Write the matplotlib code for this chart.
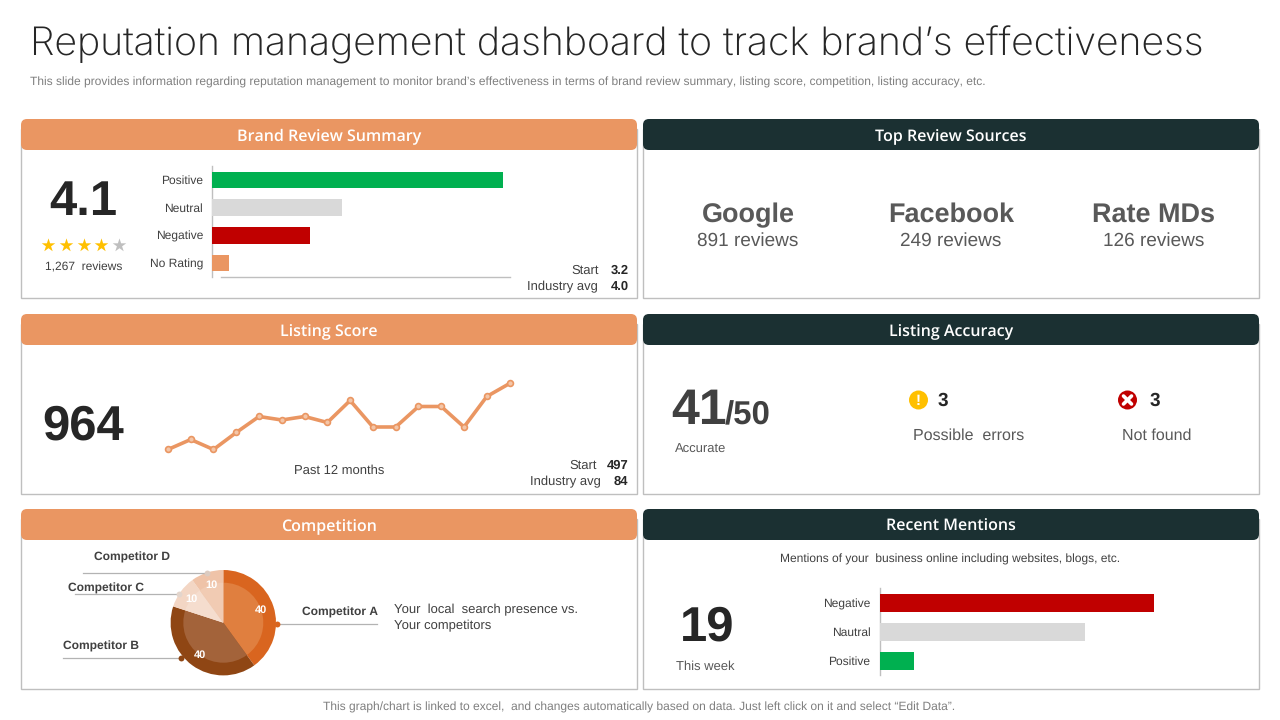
import numpy as np
import matplotlib
matplotlib.use("Agg")
import matplotlib.pyplot as plt
from matplotlib.patches import Circle, FancyBboxPatch, Rectangle, Wedge

plt.rcParams["font.family"] = ["Liberation Sans", "DejaVu Sans"]
plt.rcParams["text.hinting"] = "no_hinting"
plt.rcParams["text.hinting_factor"] = 1

ORANGE = "#EA9662"
DARK = "#1B3032"
GREEN = "#00B050"
GREY = "#D9D9D9"
RED = "#C00000"

review_cats = ["Positive", "Neutral", "Negative", "No Rating"]
review_vals = [291, 130, 98, 17]
review_colors = [GREEN, GREY, RED, ORANGE]

sources = ["Google", "Facebook", "Rate MDs"]
source_reviews = ["891 reviews", "249 reviews", "126 reviews"]

score_vals = [0, 10, 0, 17, 33, 29.5, 33, 27, 49, 22.5, 22.5, 43, 43, 22.5, 53, 66]

comp_names = ["Competitor A", "Competitor B", "Competitor C", "Competitor D"]
comp_vals = [40, 40, 10, 10]
comp_outer = ["#D9651F", "#8F4614", "#F3D6C4", "#EFC3A8"]
comp_inner = ["#E07F3F", "#A3633A", "#F5DDCE", "#F1CBB3"]

mention_cats = ["Negative", "Nautral", "Positive"]
mention_vals = [274, 205, 34]
mention_colors = [RED, GREY, GREEN]

fig = plt.figure(figsize=(12.8, 7.2), dpi=100)
bg = fig.add_axes([0, 0, 1, 1])
bg.set_xlim(0, 1280)
bg.set_ylim(720, 0)
bg.axis("off")


def px_axes(x0, y0, x1, y1):
    # axes placed with pixel corners, y measured from the top
    ax = fig.add_axes([x0 / 1280, 1 - y1 / 720, (x1 - x0) / 1280, (y1 - y0) / 720])
    ax.axis("off")
    ax.patch.set_alpha(0)
    return ax


def label(x, y, s, size, color="#404040", ha="center", weight="normal", **kw):
    # va=center sits high for these fonts, push down a bit with the size
    bg.text(x, y + 0.8 + 0.11 * size, s, fontsize=size, color=color, ha=ha, va="center",
            fontweight=weight, **kw)


def panel(x0, y0, x1, y1, title, color):
    bg.add_patch(Rectangle((x0, y0 + 10), x1 - x0, y1 - y0 - 10, fc="white", ec="#BFBFBF", lw=1))
    bg.add_patch(FancyBboxPatch((x0 + 5, y0 + 5), x1 - x0 - 10, 21,
                                boxstyle="round,pad=5,rounding_size=6", fc=color, ec="none"))
    bg.text((x0 + x1) / 2, y0 + 18, title, fontsize=11.5, color="white", ha="center", va="center",
            family="Open Sans", fontweight="semibold")


def hbars(ax_box, cats, vals, colors, height, size, xmax, pad):
    ax = px_axes(*ax_box)
    ypos = list(range(len(cats)))
    ax.barh(ypos, vals, height=height, color=colors)
    ax.set_xlim(0, xmax)
    ax.set_ylim(len(cats) - 0.5, -0.5)
    for y, c in zip(ypos, cats):
        ax.annotate(c, (0, y), xytext=(-pad, -0.7), textcoords="offset points", ha="right", va="center",
                    fontsize=size, color="#404040", annotation_clip=False)
    return ax


bg.text(30, 45, "Reputation management dashboard to track brand\u2019s effectiveness", fontsize=28.2,
        color="#262626", va="center", family="Inter", fontweight="light")
label(30, 80.5, "This slide provides information regarding reputation management to monitor brand\u2019s "
      "effectiveness in terms of brand review summary, listing score, competition, listing accuracy, etc.",
      8.7, "#7F7F7F", ha="left")
label(639.5, 706, "This graph/chart is linked to excel,  and changes automatically based on data. "
      "Just left click on it and select \u201cEdit Data\u201d.", 8.6, "#7F7F7F")

panel(21, 119, 637, 298, "Brand Review Summary", ORANGE)
panel(643, 119, 1259, 298, "Top Review Sources", DARK)
panel(21, 314, 637, 494, "Listing Score", ORANGE)
panel(643, 314, 1259, 494, "Listing Accuracy", DARK)
panel(21, 509, 637, 689, "Competition", ORANGE)
panel(643, 509, 1259, 689, "Recent Mentions", DARK)

# brand review summary
label(83, 198, "4.1", 35, "#262626", weight="bold")
for i, sx in enumerate([48, 66, 84, 101, 119]):
    bg.scatter(sx, 245, marker="*", s=105, color="#FFC000" if i < 4 else "#BFBFBF", lw=0)
label(83.5, 266, "1,267  reviews", 8.7, "#404040")
hbars((212, 166, 512, 277), review_cats, review_vals, review_colors, 0.6, 8.6, 300, 6.5)
bg.plot([212, 212], [166, 277], color="#BFBFBF", lw=1)
bg.plot([221, 510], [276.5, 276.5], color="#BFBFBF", lw=1)
label(599, 269, "Start", 9.2, ha="right")
label(628.5, 269, "3.2", 9.2, "#262626", ha="right", weight="bold")
label(597.5, 285, "Industry avg", 9.2, ha="right")
label(628.5, 285, "4.0", 9.2, "#262626", ha="right", weight="bold")

# top review sources
for cx, name, rev in zip([748, 951, 1153.5], sources, source_reviews):
    label(cx, 212, name, 19.6, "#595959", weight="bold")
    label(cx, 239, rev, 13.5, "#595959")

# listing score
label(83.5, 422, "964", 35.5, "#262626", weight="bold")
ax = px_axes(157, 373.5, 520.5, 459.5)
ax.plot(range(len(score_vals)), score_vals, color=ORANGE, lw=2.6, marker="o", ms=4.2,
        mfc="#F4C6A8", mec=ORANGE, mew=1.2)
ax.set_xlim(-0.48, len(score_vals) - 1 + 0.48)
ax.set_ylim(-10, 76)
label(339, 469, "Past 12 months", 9.3)
label(597, 464, "Start", 9.2, ha="right")
label(628.5, 464, "497", 9.2, "#262626", ha="right", weight="bold")
label(601, 480, "Industry avg", 9.2, ha="right")
label(628.5, 480, "84", 9.2, "#262626", ha="right", weight="bold")

# listing accuracy
label(671, 406, "41", 36, "#404040", ha="left", weight="bold")
label(725, 412, "/50", 23.5, "#404040", ha="left", weight="bold")
label(675, 448, "Accurate", 9.3, "#595959", ha="left")
bg.add_patch(Circle((918.5, 400), 9.5, fc="#FFC000", ec="none"))
label(918.5, 399, "!", 11, "white", weight="bold")
label(943, 399, "3", 13.5, "#262626", weight="bold")
label(969, 433.5, "Possible  errors", 11.4, "#595959")
bg.add_patch(Circle((1127.5, 400), 9.5, fc=RED, ec="none"))
bg.plot([1123.5, 1131.5], [396, 404], color="white", lw=2.6, solid_capstyle="round")
bg.plot([1123.5, 1131.5], [404, 396], color="white", lw=2.6, solid_capstyle="round")
label(1155, 399, "3", 13.5, "#262626", weight="bold")
label(1156.5, 433.5, "Not found", 11.2, "#595959")

# competition pie
ax = px_axes(163.3, 562.7, 283.3, 682.7)
ax.set_xlim(-60, 60)
ax.set_ylim(-60, 60)
ax.set_aspect("equal")
start = 90
for val, outer, inner in zip(comp_vals, comp_outer, comp_inner):
    sweep = val / sum(comp_vals) * 360
    ax.add_patch(Wedge((0, 0), 52.7, start - sweep, start, fc=outer, ec="none"))
    ax.add_patch(Wedge((0, 0), 40, start - sweep, start, fc=inner, ec="none"))
    mid = np.radians(start - sweep / 2)
    ax.text(40 * np.cos(mid), 40 * np.sin(mid), str(val), fontsize=8, color="white",
            fontweight="bold", ha="center", va="center")
    start -= sweep

# overlay so the leader dots sit on top of the pie
top = px_axes(0, 0, 1280, 720)
top.set_xlim(0, 1280)
top.set_ylim(720, 0)
leader_lines = [((276.5, 624), (377, 624)), ((181, 658), (63, 658)),
                ((179, 594), (75, 594)), ((207, 572.5), (83, 572.5))]
dot_colors = ["#D9651F", "#8F4614", "#E3D5CC", "#DCCBC0"]
for (p, q), dc in zip(leader_lines, dot_colors):
    top.plot([p[0], q[0]], [p[1], q[1]], color="#B3B3B3", lw=0.9)
    top.scatter(*p, s=18, color=dc, zorder=6, lw=0)
for nx, ny, name in zip([340, 101, 105.5, 132], [611, 645, 587, 556], comp_names):
    label(nx, ny, name, 8.6, "#404040", weight="bold")
label(394, 608.5, "Your  local  search presence vs.", 9.1, "#404040", ha="left")
label(394, 624.5, "Your competitors", 9.1, "#404040", ha="left")

# recent mentions
label(950, 558, "Mentions of your  business online including websites, blogs, etc.", 8.5)
label(707, 623, "19", 35, "#262626", weight="bold")
label(705, 664.5, "This week", 9.5, "#595959")
hbars((880, 588.5, 1180, 675.5), mention_cats, mention_vals, mention_colors, 0.65, 8.6, 300, 7)
bg.plot([880, 880], [588, 675], color="#BFBFBF", lw=1)

fig.savefig("out.png", dpi=100)
plt.close(fig)
